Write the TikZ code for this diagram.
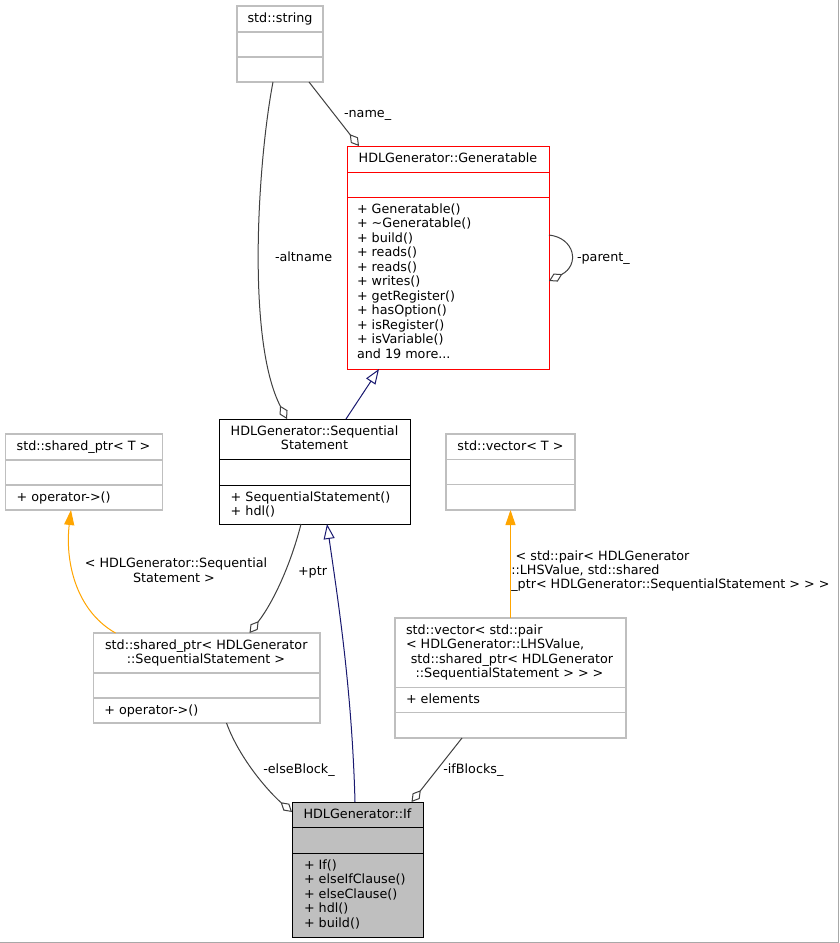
\documentclass[tikz,border=0pt]{standalone}
\usepackage{fontspec}
\setmainfont{DejaVu Sans}
\usetikzlibrary{arrows.meta}
\definecolor{grey75}{HTML}{BFBFBF}
\definecolor{grey25}{HTML}{404040}
\definecolor{midnight}{HTML}{191970}
\definecolor{orangeg}{HTML}{FFA500}
\definecolor{framegray}{HTML}{A8A8A8}
\newcommand{\umlbox}[8]{%
  \node[#2, anchor=north west, minimum width={#5-#3}, minimum height={#6-#4}] (#1) at (#3,#4) {};
  \draw[#2] (#3,#7) -- (#5,#7) (#3,#8) -- (#5,#8);
}
\begin{document}
\begin{tikzpicture}[x=1pt,y=-1pt,
  txt/.style={inner sep=0pt, outer sep=0pt, font=\fontsize{12.75pt}{14.5pt}\selectfont, text=black},
  graybox/.style={draw=grey75, line width=1.1pt, inner sep=0pt, outer sep=0pt},
  redbox/.style={draw=red, line width=1pt, inner sep=0pt, outer sep=0pt},
  blackbox/.style={draw=black, line width=1pt, inner sep=0pt, outer sep=0pt},
  ifbox/.style={draw=black, fill=grey75, line width=1pt, inner sep=0pt, outer sep=0pt},
  assoc/.style={draw=grey25, line width=1pt, -{Diamond[open,length=15pt,width=9pt]}},
  inherit/.style={draw=midnight, line width=1pt, -{Triangle[open,length=15pt,width=11pt]}},
  templ/.style={draw=orangeg, line width=1pt, -{Triangle[length=15pt,width=10pt]}},
]
\fill[white] (0,0) rectangle (839,943);
\useasboundingbox (0,0) rectangle (839,943);
\draw[framegray, line width=1.3pt] (838.35,0) -- (838.35,942.35) -- (0,942.35);

% std::string
\umlbox{str}{graybox}{237}{6}{323}{82}{32}{57}
\node[txt, anchor=base] (str-t) at (280,22) {std::string};

% Generatable
\umlbox{gen}{redbox}{347}{146}{549}{369}{172}{197}
\node[txt, anchor=base] (gen-t) at (448,162) {HDLGenerator::Generatable};
\foreach \t [count=\i] in {+ Generatable(), + \textasciitilde Generatable(), + build(), + reads(), + reads(), + writes(), + getRegister(), + hasOption(), + isRegister(), + isVariable()}
  \node[txt, anchor=base west] (gen-m\i) at (357, {213+(\i-1)*14.5}) {\t};
\node[txt, anchor=base west] (gen-more) at (357,358) {and 19 more...};

% SequentialStatement
\umlbox{seq}{blackbox}{219}{419}{410}{524}{459}{485}
\node[txt, anchor=base] (seq-t1) at (314.5,435.5) {HDLGenerator::Sequential};
\node[txt, anchor=base] (seq-t2) at (314.5,449.5) {Statement};
\node[txt, anchor=base west] (seq-m1) at (230.7,501.5) {+ SequentialStatement()};
\node[txt, anchor=base west] (seq-m2) at (230.7,515.5) {+ hdl()};

% shared_ptr<T>
\umlbox{spT}{graybox}{5.5}{434}{162.5}{510}{460}{485}
\node[txt, anchor=base] (spT-t) at (83.5,450) {std::shared\_ptr< T >};
\node[txt, anchor=base west] (spT-m1) at (16.7,501) {+ operator->()};

% shared_ptr<SequentialStatement>
\umlbox{spS}{graybox}{93.5}{633}{320}{723}{673}{698}
\node[txt, anchor=base] (spS-t1) at (206.3,649) {std::shared\_ptr< HDLGenerator};
\node[txt, anchor=base] (spS-t2) at (206,663.5) {::SequentialStatement >};
\node[txt, anchor=base west] (spS-m1) at (104.3,714) {+ operator->()};

% vector<T>
\umlbox{vecT}{graybox}{446}{434}{575}{510}{459.5}{484.5}
\node[txt, anchor=base] (vecT-t) at (510.5,450) {std::vector< T >};

% vector<pair<...>>
\umlbox{vecP}{graybox}{395}{618}{626}{738}{687.5}{712.5}
\node[txt, anchor=base west] (vecP-t1) at (406,634) {std::vector< std::pair};
\node[txt, anchor=base west] (vecP-t2) at (406,648.5) {< HDLGenerator::LHSValue,};
\node[txt, anchor=base] (vecP-t3) at (512,663) {std::shared\_ptr< HDLGenerator};
\node[txt, anchor=base] (vecP-t4) at (509.5,677.5) {::SequentialStatement > > >};
\node[txt, anchor=base west] (vecP-m1) at (406,703) {+ elements};

% If
\umlbox{if}{ifbox}{292}{802}{423}{937}{827.5}{853}
\node[txt, anchor=base] (if-t) at (357.5,818) {HDLGenerator::If};
\foreach \t [count=\i] in {+ If(), + elseIfClause(), + elseClause(), + hdl(), + build()}
  \node[txt, anchor=base west] (if-m\i) at (304, {869+(\i-1)*14.5}) {\t};

% edges
\draw[assoc] ([xshift=72]str.south west) -- ([xshift=12]gen.north west);
\draw[assoc] ([xshift=36]str.south west) .. controls (258,160) and (246,340) .. ([xshift=68]seq.north west);
\draw[assoc] ([yshift=-89]gen.north east) .. controls (575,238) and (580,265) .. ([yshift=-135]gen.north east);
\draw[inherit] ([xshift=127]seq.north west) -- ([xshift=32]gen.south west);
\draw[inherit] ([xshift=63]if.north west) .. controls (352,690) and (338,600) .. ([xshift=108]seq.south west);
\draw[assoc] ([xshift=82]seq.south west) .. controls (292,560) and (275,600) .. ([xshift=156]spS.north west);
\draw[templ] ([xshift=22]spS.north west) .. controls (75,610) and (65,560) .. ([xshift=65.5]spT.south west);
\draw[templ] (vecP.north) -- (vecT.south);
\draw[assoc] ([xshift=133]spS.south west) .. controls (240,760) and (270,793) .. ([yshift=-10]if.north west);
\draw[assoc] ([xshift=67]vecP.south west) -- ([xshift=119.5]if.north west);

% labels
\node[txt, anchor=base west] (l-name) at (344,117.5) {-name\_};
\node[txt, anchor=base west] (l-alt) at (275,261) {-altname};
\node[txt, anchor=base west] (l-parent) at (577,261) {-parent\_};
\node[txt, anchor=base west] (l-ptr) at (298,575) {+ptr};
\node[txt, anchor=base] (l-tpl1) at (176,567) {< HDLGenerator::Sequential};
\node[txt, anchor=base] (l-tpl2) at (174,582) {Statement >};
\node[txt, anchor=base west] (l-vec1) at (515.7,560) {< std::pair< HDLGenerator};
\node[txt, anchor=base west] (l-vec2) at (511.3,574.5) {::LHSValue, std::shared};
\node[txt, anchor=base west] (l-vec3) at (511.3,588.5) {\_ptr< HDLGenerator::SequentialStatement > > >};
\node[txt, anchor=base west] (l-else) at (263.3,773) {-elseBlock\_};
\node[txt, anchor=base west] (l-if) at (443.3,773) {-ifBlocks\_};
\end{tikzpicture}
\end{document}
